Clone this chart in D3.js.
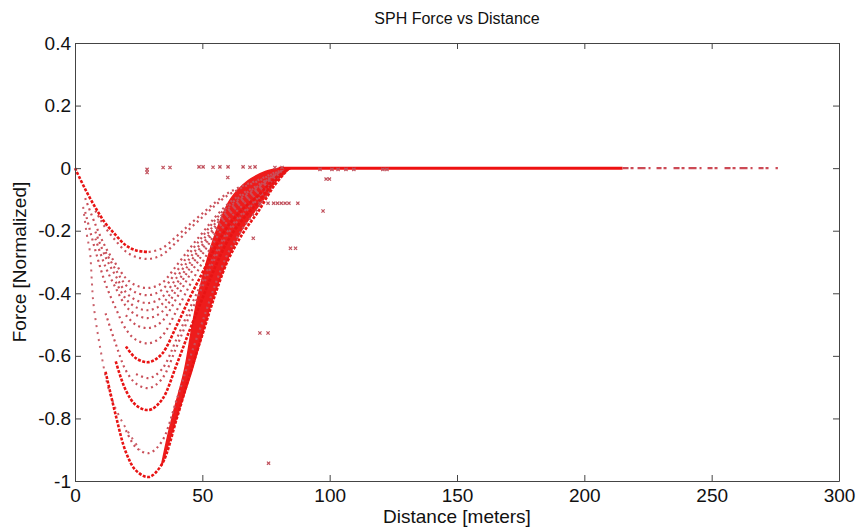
<!DOCTYPE html>
<html>
<head>
  <meta charset="utf-8">
  <title>SPH Force vs Distance</title>
  <script src="https://d3js.org/d3.v7.min.js"></script>
  <style>
    body { margin: 0; background: #fff; }
    text { font-family: "Liberation Sans", Arial, sans-serif; fill: #111; }
  </style>
</head>
<body>
<div id="chart"></div>
<script>
  "use strict";

  // tick labels
  var xTicks = [0, 50, 100, 150, 200, 250, 300];
  var yTicks = [0.4, 0.2, 0, -0.2, -0.4, -0.6, -0.8, -1];

  var distKnots = [0, 4, 8, 12, 16, 20, 24, 29, 34, 40, 45, 50, 55, 60, 66, 72, 78, 84];

  // normalized force for each family of pair curves (null = no points there)
  var curve01 = [0, -0.067, -0.126, -0.177, -0.214, -0.247, -0.263, -0.268, null, null, null, null, null, null, null, null, null, null];
  var curve01b = [null, null, null, null, null, null, null, -0.268, -0.257, -0.217, -0.180, -0.145, -0.110, -0.080, -0.056, -0.038, -0.016, 0];
  var curve02 = [null, null, -0.136, -0.191, -0.232, -0.267, -0.284, -0.290, -0.278, -0.235, -0.194, -0.157, -0.119, -0.087, -0.061, -0.041, -0.017, 0];
  var curve03 = [null, -0.096, -0.180, -0.253, -0.306, -0.352, -0.375, -0.383, -0.368, -0.310, -0.257, -0.207, -0.157, -0.115, -0.080, -0.054, -0.023, 0];
  var curve04 = [null, null, null, -0.268, -0.325, -0.374, -0.398, -0.406, -0.390, -0.329, -0.272, -0.219, -0.166, -0.122, -0.085, -0.057, -0.024, 0];
  var curve05 = [null, null, -0.203, -0.284, -0.345, -0.397, -0.422, -0.431, -0.414, -0.349, -0.289, -0.233, -0.177, -0.129, -0.091, -0.060, -0.026, 0];
  var curve06 = [null, null, null, null, -0.363, -0.418, -0.445, -0.454, -0.436, -0.368, -0.304, -0.245, -0.186, -0.136, -0.095, -0.064, -0.027, 0];
  var curve07 = [null, null, -0.225, -0.316, -0.383, -0.441, -0.469, -0.479, -0.460, -0.388, -0.321, -0.259, -0.196, -0.144, -0.101, -0.067, -0.029, 0];
  var curve08 = [null, null, null, null, null, -0.470, -0.501, -0.511, -0.491, -0.414, -0.342, -0.276, -0.210, -0.153, -0.107, -0.072, -0.031, 0];
  var curve09 = [null, -0.140, -0.263, -0.370, -0.448, -0.515, -0.549, -0.560, -0.538, -0.454, -0.375, -0.302, -0.230, -0.168, -0.118, -0.078, -0.034, 0];
  var curve10 = [null, null, null, null, null, -0.570, -0.608, -0.620, -0.595, -0.502, -0.415, -0.335, -0.254, -0.186, -0.130, -0.087, -0.037, 0];
  var curve11 = [null, null, null, null, null, null, -0.658, -0.671, -0.644, -0.544, -0.450, -0.362, -0.275, -0.201, -0.141, -0.094, -0.040, 0];
  var curve12 = [null, null, null, -0.464, -0.562, -0.647, -0.689, -0.703, -0.675, -0.569, -0.471, -0.380, -0.288, -0.211, -0.148, -0.098, -0.042, 0];
  var curve13 = [null, null, null, null, -0.618, -0.711, -0.758, -0.773, -0.742, -0.626, -0.518, -0.417, -0.317, -0.232, -0.162, -0.108, -0.046, 0];
  var curve14 = [null, null, null, null, null, -0.838, -0.893, -0.911, -0.875, -0.738, -0.610, -0.492, -0.374, -0.273, -0.191, -0.128, -0.055, 0];
  var curve15 = [null, null, null, -0.651, -0.790, -0.908, -0.967, -0.987, -0.948, -0.799, -0.661, -0.533, -0.405, -0.296, -0.207, -0.138, -0.059, 0];

  var brightCurves = [curve01, curve10, curve13, curve15];
  var sparseCurves = [curve01b, curve02, curve03, curve04, curve05, curve06, curve07, curve08, curve09, curve11, curve12, curve14];

  // steep sparse streak on the left
  var leftStreakDist = [3.2, 4.6, 5.9, 6.6, 7.2, 9.8, 13.7, 18.8, 25.5];
  var leftStreakForce = [-0.124, -0.21, -0.27, -0.36, -0.43, -0.57, -0.72, -0.815, -0.9];

  // dense band of overlapping points on the right branch
  var bandForce = [-0.948, -0.86, -0.77, -0.645, -0.53, -0.42, -0.29, -0.19, -0.10, -0.04, -0.01, 0];
  var bandOuter = [34.2, 37.5, 41, 46, 50, 54, 60, 66, 74, 79, 83, 85];
  var bandInner = [34.0, 36.3, 39, 43, 45.5, 48, 52, 56, 61, 68, 75, 80];

  // zero-force run
  var zeroSolid = [80, 215];
  var zeroSparse = [215, 276];

  // isolated points
  var strayDist = [28.3, 28.3, 34.6, 37.3, 48.7, 50.3, 54.2, 56.9, 60.1, 66.0, 68.7, 70.7, 78.5, 81.3,
                   96.2, 100.9, 103.3, 106.4, 109.5, 120.9, 122.5, 98.6, 99.9, 97.4, 60,
                   72.6, 75.8, 78, 79.5, 81, 82.5, 84, 87.5, 70, 84.6, 86.6, 72.6, 75.8, 76];
  var strayForce = [-0.004, -0.014, 0.002, 0.002, 0.004, 0.004, 0.003, 0.004, 0.004, 0.004, 0.003, 0.004, 0.002, 0.002,
                    -0.004, -0.004, -0.004, -0.004, -0.004, -0.004, -0.004, -0.035, -0.035, -0.137, -0.03,
                    -0.112, -0.112, -0.112, -0.112, -0.112, -0.112, -0.112, -0.112, -0.224, -0.256, -0.256, -0.527, -0.527, -0.943];

  var W = 859, H = 529;
  var mLeft = 75, mRight = 839, mTop = 43, mBottom = 481;

  var svg = d3.select("#chart").append("svg")
      .attr("width", W)
      .attr("height", H);

  svg.append("rect").attr("width", W).attr("height", H).attr("fill", "#fff");

  var x = d3.scaleLinear().domain([0, 300]).range([mLeft, mRight]);
  var y = d3.scaleLinear().domain([-1, 0.4]).range([mBottom, mTop]);

  var plot = svg.append("g").attr("class", "plot");

  var toPoints = function (arr) {
    var pts = [];
    arr.forEach(function (f, i) {
      if (f !== null) pts.push([distKnots[i], f]);
    });
    return pts;
  };

  var line = d3.line()
      .x(function (d) { return x(d[0]); })
      .y(function (d) { return y(d[1]); })
      .curve(d3.curveCatmullRom);

  // dense band
  var band = d3.area()
      .y(function (d, i) { return y(bandForce[i]); })
      .x0(function (d, i) { return x(bandInner[i]); })
      .x1(function (d, i) { return x(bandOuter[i]); })
      .curve(d3.curveCatmullRom);

  plot.append("path")
      .attr("d", band(bandForce))
      .attr("fill", "#ee1c1c")
      .attr("stroke", "#ee1c1c")
      .attr("stroke-width", 1.5);

  // sparse curves
  sparseCurves.forEach(function (c) {
    plot.append("path")
        .attr("d", line(toPoints(c)))
        .attr("fill", "none")
        .attr("stroke", "#c9505a")
        .attr("stroke-width", 2.2)
        .attr("stroke-dasharray", "2 3.5");
  });

  plot.append("path")
      .attr("d", line(leftStreakDist.map(function (d, i) { return [d, leftStreakForce[i]]; })))
      .attr("fill", "none")
      .attr("stroke", "#c9606a")
      .attr("stroke-width", 2)
      .attr("stroke-dasharray", "2 5");

  // bright curves
  brightCurves.forEach(function (c) {
    plot.append("path")
        .attr("d", line(toPoints(c)))
        .attr("fill", "none")
        .attr("stroke", "#e81414")
        .attr("stroke-width", 2.6)
        .attr("stroke-dasharray", "3 1.5");
  });

  // zero-force run
  plot.append("line")
      .attr("x1", x(zeroSolid[0])).attr("x2", x(zeroSolid[1]))
      .attr("y1", y(0)).attr("y2", y(0))
      .attr("stroke", "#ee1111")
      .attr("stroke-width", 3);

  plot.append("line")
      .attr("x1", x(zeroSparse[0])).attr("x2", x(zeroSparse[1]))
      .attr("y1", y(0)).attr("y2", y(0))
      .attr("stroke", "#cc4a55")
      .attr("stroke-width", 2.4)
      .attr("stroke-dasharray", "6 2 3 4 8 3 2 6 5 2 3 7");

  // isolated x markers
  plot.selectAll(".stray")
      .data(strayDist)
      .enter()
      .append("path")
        .attr("class", "stray")
        .attr("d", function (d, i) {
          var cx = x(d), cy = y(strayForce[i]), s = 1.6;
          return "M" + (cx - s) + "," + (cy - s) + "L" + (cx + s) + "," + (cy + s) +
                 "M" + (cx - s) + "," + (cy + s) + "L" + (cx + s) + "," + (cy - s);
        })
        .attr("stroke", "#c0505c")
        .attr("stroke-width", 1.2);

  /*
    axes: MATLAB style box with ticks pointing inward
  */
  var axisColor = "#444";

  var gx = svg.append("g")
      .attr("transform", "translate(0," + mBottom + ")")
      .call(d3.axisBottom(x).tickValues(xTicks).tickSize(-6).tickSizeOuter(0).tickPadding(8)
        .tickFormat(d3.format("d")));
  var gy = svg.append("g")
      .attr("transform", "translate(" + mLeft + ",0)")
      .call(d3.axisLeft(y).tickValues(yTicks).tickSize(-6).tickSizeOuter(0).tickPadding(4)
        .tickFormat(function (d) { return d === 0 ? "0" : String(+d.toFixed(1)); }));
  var gt = svg.append("g")
      .attr("transform", "translate(0," + mTop + ")")
      .call(d3.axisTop(x).tickValues(xTicks).tickSize(-6).tickSizeOuter(0).tickFormat(""));
  var gr = svg.append("g")
      .attr("transform", "translate(" + mRight + ",0)")
      .call(d3.axisRight(y).tickValues(yTicks).tickSize(-6).tickSizeOuter(0).tickFormat(""));

  [gx, gy, gt, gr].forEach(function (g) {
    g.selectAll(".domain").attr("stroke", axisColor);
    g.selectAll(".tick line").attr("stroke", axisColor);
    g.selectAll(".tick text")
      .style("font-family", "'Liberation Sans', Arial, sans-serif")
      .style("font-size", "19px")
      .attr("fill", "#111");
  });

  // title and axis labels
  svg.append("text")
      .attr("x", (mLeft + mRight) / 2)
      .attr("y", 24)
      .attr("text-anchor", "middle")
      .style("font-size", "16px")
      .text("SPH Force vs Distance");

  svg.append("text")
      .attr("x", (mLeft + mRight) / 2)
      .attr("y", 523)
      .attr("text-anchor", "middle")
      .style("font-size", "19px")
      .text("Distance [meters]");

  svg.append("text")
      .attr("transform", "translate(26," + (mTop + mBottom) / 2 + ") rotate(-90)")
      .attr("text-anchor", "middle")
      .style("font-size", "19px")
      .text("Force [Normalized]");
</script>
</body>
</html>
